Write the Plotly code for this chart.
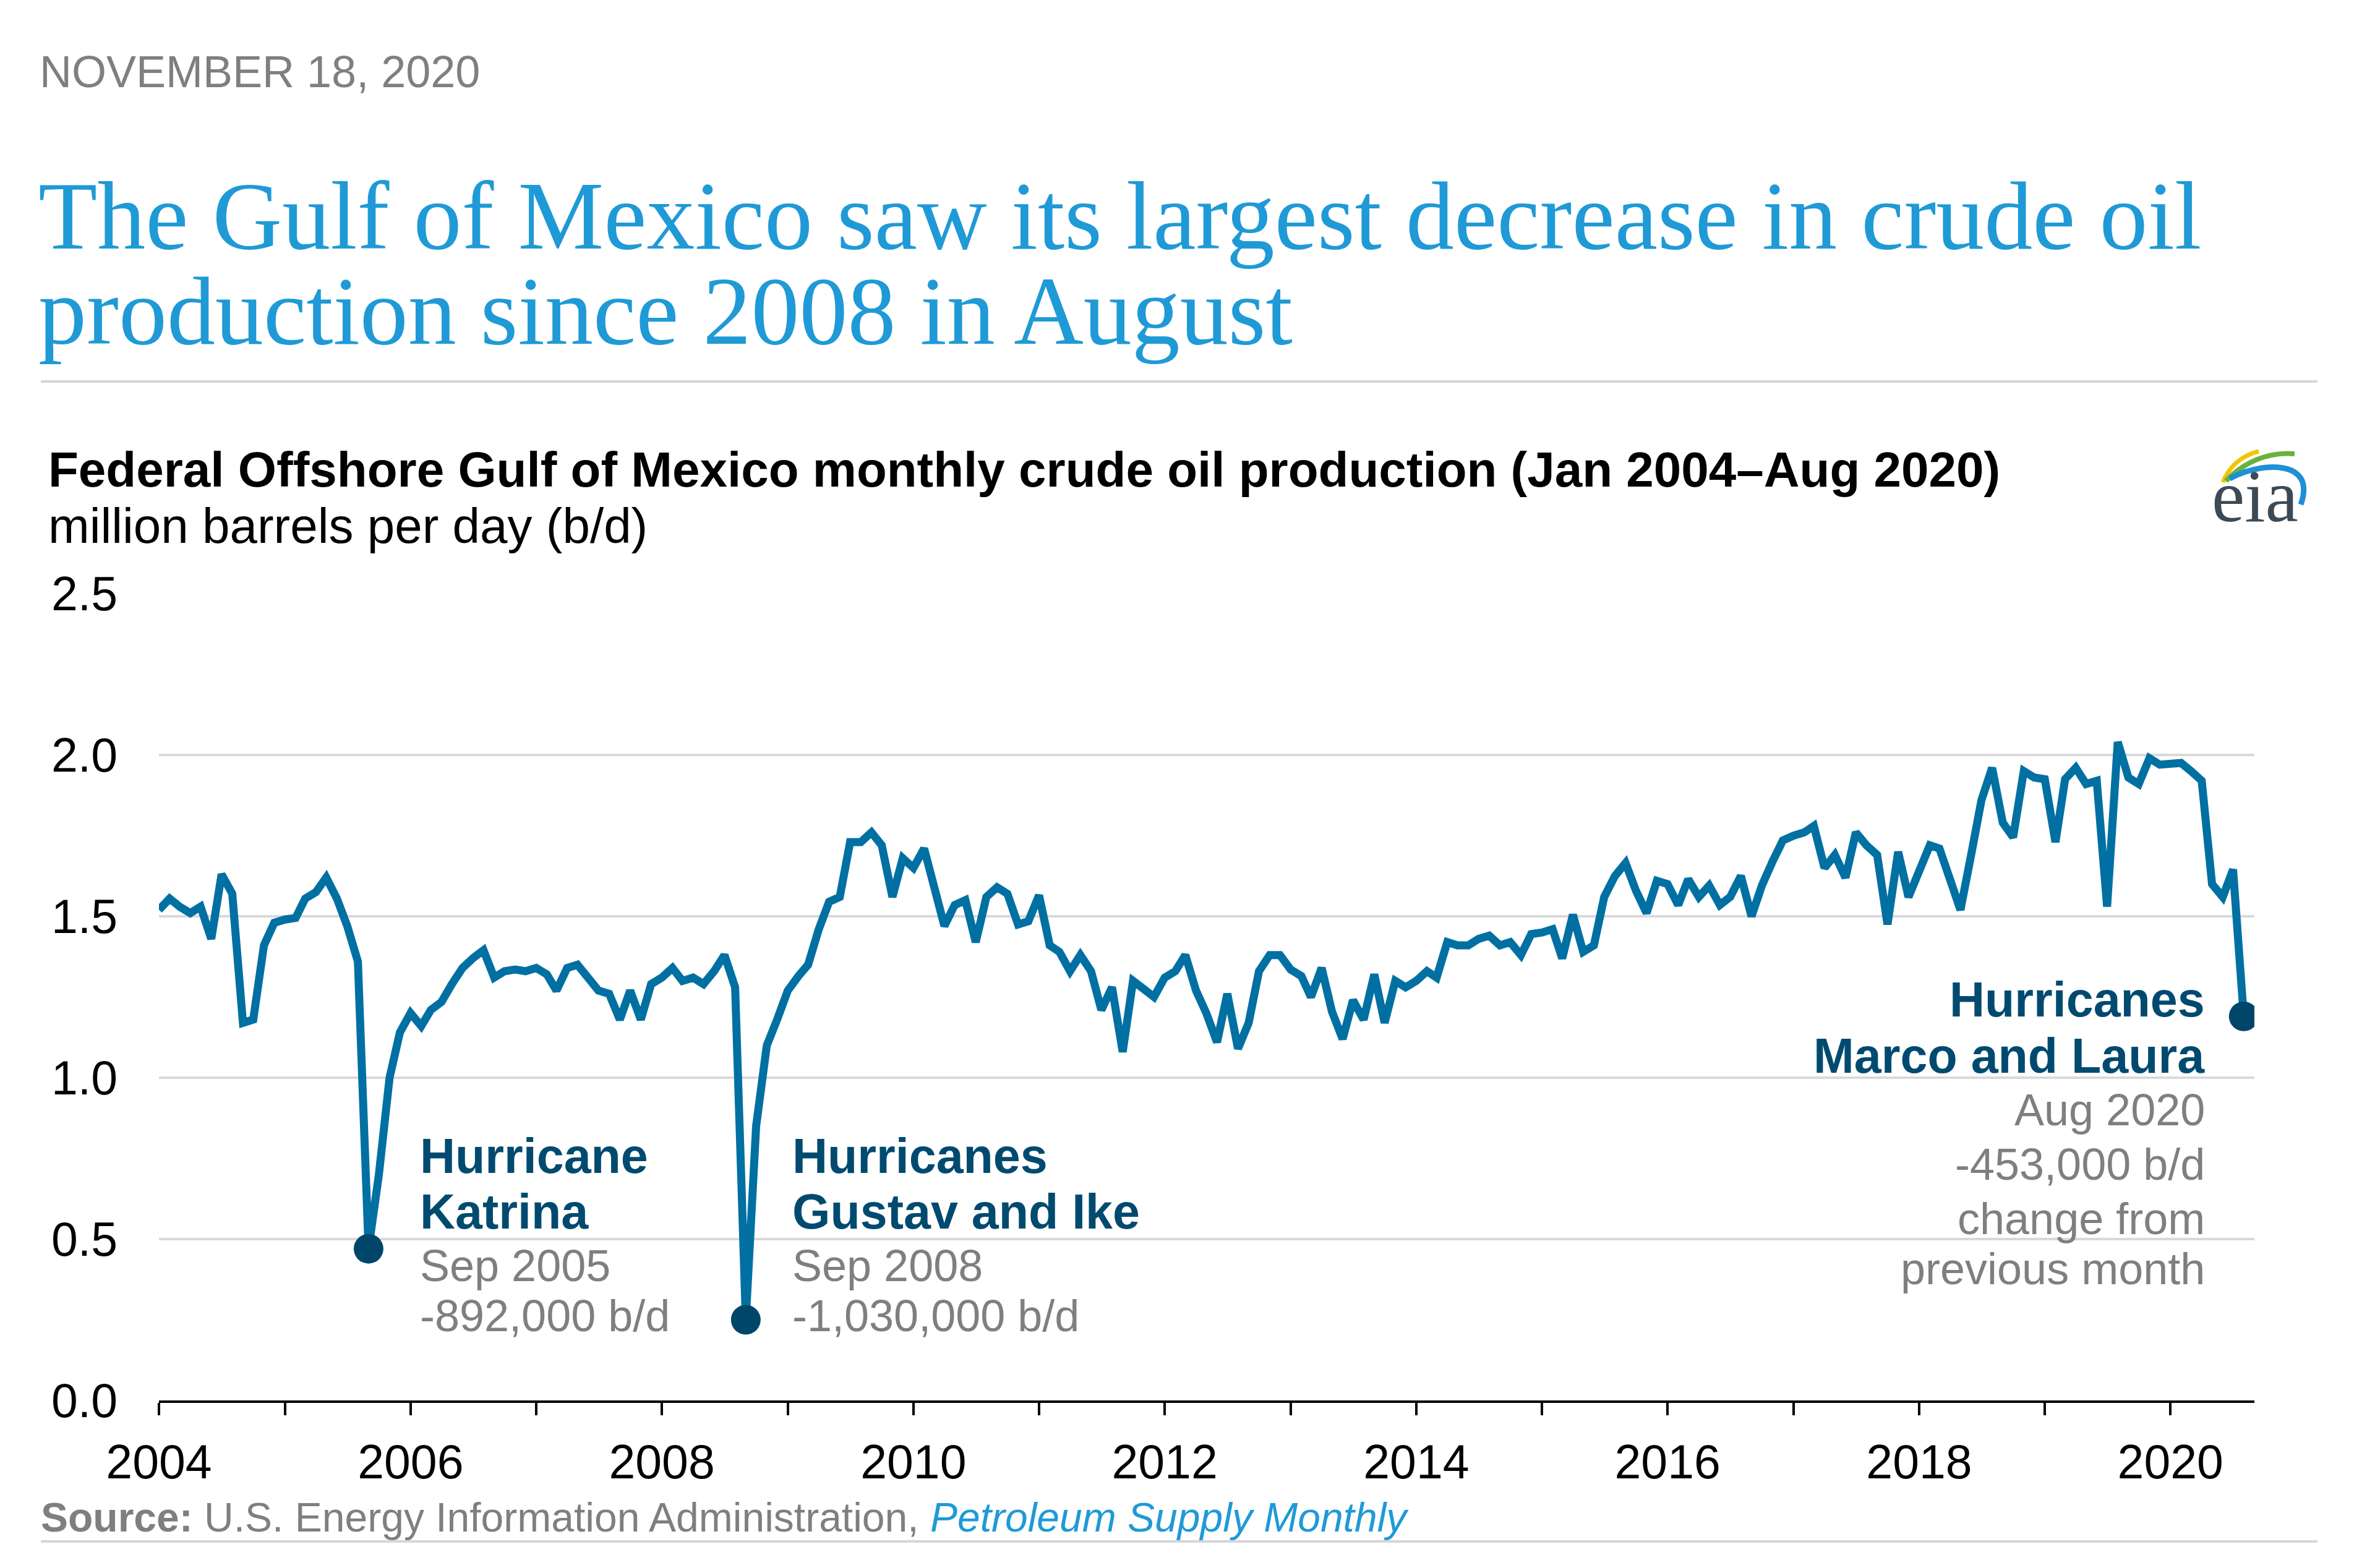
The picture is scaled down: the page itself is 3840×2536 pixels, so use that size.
import pandas as pd
import plotly.graph_objects as go

# ---------------- data ----------------
months = pd.date_range("2004-01-01", periods=200, freq="MS")

production = [
    # 2004
    1.52, 1.555, 1.53, 1.51, 1.53, 1.43, 1.63, 1.57, 1.17, 1.18, 1.41, 1.48,
    # 2005
    1.49, 1.495, 1.555, 1.575, 1.62, 1.555, 1.47, 1.36, 0.47, 0.70, 1.00, 1.14,
    # 2006
    1.20, 1.16, 1.21, 1.235, 1.29, 1.34, 1.37, 1.395, 1.31, 1.33, 1.335, 1.33,
    # 2007
    1.34, 1.32, 1.27, 1.34, 1.35, 1.31, 1.27, 1.26, 1.18, 1.27, 1.18, 1.29,
    # 2008
    1.31, 1.34, 1.30, 1.31, 1.29, 1.33, 1.38, 1.28, 0.25, 0.85, 1.10, 1.18,
    # 2009
    1.27, 1.315, 1.35, 1.46, 1.545, 1.56, 1.73, 1.73, 1.76, 1.72, 1.56, 1.68,
    # 2010
    1.65, 1.71, 1.60, 1.47, 1.535, 1.55, 1.42, 1.56, 1.59, 1.57, 1.475, 1.485,
    # 2011
    1.565, 1.41, 1.39, 1.33, 1.38, 1.33, 1.21, 1.28, 1.08, 1.30, 1.275, 1.25,
    # 2012
    1.31, 1.33, 1.38, 1.27, 1.20, 1.11, 1.26, 1.09, 1.17, 1.33, 1.38, 1.38,
    # 2013
    1.335, 1.315, 1.25, 1.34, 1.205, 1.12, 1.24, 1.18, 1.32, 1.17, 1.30, 1.28,
    # 2014
    1.30, 1.33, 1.31, 1.42, 1.41, 1.41, 1.43, 1.44, 1.41, 1.42, 1.38, 1.445,
    # 2015
    1.45, 1.46, 1.37, 1.505, 1.39, 1.41, 1.56, 1.625, 1.665, 1.58, 1.51, 1.61,
    # 2016
    1.60, 1.535, 1.615, 1.56, 1.595, 1.535, 1.56, 1.625, 1.50, 1.595, 1.67, 1.735,
    # 2017
    1.75, 1.76, 1.78, 1.65, 1.69, 1.62, 1.76, 1.72, 1.69, 1.475, 1.70, 1.56,
    # 2018
    1.64, 1.72, 1.71, 1.62, 1.52, 1.69, 1.86, 1.96, 1.79, 1.745, 1.95, 1.93,
    # 2019
    1.925, 1.73, 1.925, 1.96, 1.91, 1.92, 1.53, 2.04, 1.93, 1.91, 1.99, 1.97,
    # 2020
    1.975, 1.975, 1.95, 1.92, 1.60, 1.56, 1.645, 1.19,
]

y_tick_values = [0.0, 0.5, 1.0, 1.5, 2.0, 2.5]
y_tick_labels = ["0.0", "0.5", "1.0", "1.5", "2.0", "2.5"]
x_tick_years = list(range(2004, 2021))
x_tick_labels = [str(y) if (y - 2004) % 2 == 0 else "" for y in x_tick_years]

highlight_months = ["2005-09-01", "2008-09-01", "2020-08-01"]

# ---------------- layout constants ----------------
W, H = 3840, 2536
L, R, T, B = 257, 3645, 960, 2265   # plot area in pixels

SANS = "Liberation Sans, Arial, Helvetica, sans-serif"
SERIF = "Liberation Serif, Times New Roman, serif"
LINE_C = "#0070a3"
DOT_C = "#00466b"
LABEL_C = "#004a70"
GRAY = "#7f7f7f"
BLUE = "#1f9ad6"


def px_x(px):
    return (px - L) / (R - L)


def px_y(py):
    return (B - py) / (B - T)


hl_x = [pd.Timestamp(d) for d in highlight_months]
hl_y = [production[months.get_loc(d)] for d in hl_x]

fig = go.Figure()
fig.add_trace(go.Scatter(
    x=months, y=production, mode="lines",
    line=dict(color=LINE_C, width=13), hoverinfo="skip",
))
fig.add_trace(go.Scatter(
    x=hl_x, y=hl_y, mode="markers",
    marker=dict(color=DOT_C, size=48, line=dict(width=0)), hoverinfo="skip",
))

fig.update_layout(
    width=W, height=H,
    margin=dict(l=L, r=W - R, t=T, b=H - B, pad=0),
    paper_bgcolor="white", plot_bgcolor="white",
    showlegend=False,
    font=dict(family=SANS, color="black"),
)

fig.update_xaxes(
    type="date",
    range=["2004-01-01", "2020-09-01"],
    tickvals=[pd.Timestamp(f"{y}-01-01") for y in x_tick_years],
    ticktext=x_tick_labels,
    showgrid=False, zeroline=False,
    showline=True, linecolor="black", linewidth=4,
    ticks="outside", ticklen=20, tickwidth=4, tickcolor="black",
    tickfont=dict(size=77, color="black", family=SANS),
    ticklabelstandoff=10,
)
fig.update_yaxes(
    range=[0, 2.5],
    tickvals=y_tick_values, ticktext=y_tick_labels,
    showgrid=True, gridcolor="#d9d9d9", gridwidth=4,
    zeroline=False, showline=False, ticks="",
    tickfont=dict(size=77, color="black", family=SANS),
    ticklabelstandoff=66,
)


def add_text(text, x, y, size, color, xanchor="left", family=SANS):
    fig.add_annotation(
        text=text, x=px_x(x), y=px_y(y), xref="paper", yref="paper",
        xanchor=xanchor, yanchor="middle", showarrow=False,
        font=dict(size=size, color=color, family=family),
    )


# header
add_text("NOVEMBER 18, 2020", 62, 116, 72, GRAY)
add_text("The Gulf of Mexico saw its largest decrease in crude oil", 60, 349, 156, BLUE, family=SERIF)
add_text("production since 2008 in August", 60, 503, 156, BLUE, family=SERIF)
add_text("<b>Federal Offshore Gulf of Mexico monthly crude oil production (Jan 2004\u2013Aug 2020)</b>",
         76, 759, 80, "black")
add_text("million barrels per day (b/d)", 76, 850, 80, "black")

# annotations
add_text("<b>Hurricane</b>", 677, 1869, 79, LABEL_C)
add_text("<b>Katrina</b>", 677, 1959, 79, LABEL_C)
add_text("Sep 2005", 677, 2047, 72, GRAY)
add_text("-892,000 b/d", 677, 2128, 72, GRAY)

add_text("<b>Hurricanes</b>", 1279, 1869, 79, LABEL_C)
add_text("<b>Gustav and Ike</b>", 1279, 1959, 79, LABEL_C)
add_text("Sep 2008", 1279, 2047, 72, GRAY)
add_text("-1,030,000 b/d", 1279, 2128, 72, GRAY)

add_text("<b>Hurricanes</b>", 3567, 1616, 79, LABEL_C, xanchor="right")
add_text("<b>Marco and Laura</b>", 3567, 1707, 79, LABEL_C, xanchor="right")
add_text("Aug 2020", 3567, 1795, 72, GRAY, xanchor="right")
add_text("-453,000 b/d", 3567, 1883, 72, GRAY, xanchor="right")
add_text("change from", 3567, 1971, 72, GRAY, xanchor="right")
add_text("previous month", 3567, 2052, 72, GRAY, xanchor="right")

# source
add_text("<b>Source:</b> U.S. Energy Information Administration, "
         f"<i><span style='color:{BLUE}'>Petroleum Supply Monthly</span></i>",
         64, 2454, 66, GRAY)

# eia logo text
add_text("eia", 3646, 802, 120, "#3c4a56", xanchor="center", family=SERIF)

# separator rules
for yy in (617, 2493):
    fig.add_shape(type="line", xref="paper", yref="paper",
                  x0=px_x(66), x1=px_x(3747), y0=px_y(yy), y1=px_y(yy),
                  line=dict(color="#d6d6d6", width=4))


def arc(p0, c1, c2, p1):
    return (f"M {px_x(p0[0])},{px_y(p0[1])} C {px_x(c1[0])},{px_y(c1[1])} "
            f"{px_x(c2[0])},{px_y(c2[1])} {px_x(p1[0])},{px_y(p1[1])}")


logo_arcs = [
    ((3594, 780), (3604, 755), (3624, 737), (3652, 730), "#f2c500", 7),
    ((3599, 778), (3627, 748), (3667, 730), (3710, 734), "#6ab23e", 8),
    ((3605, 774), (3652, 748), (3747, 740), (3720, 816), "#1f8fd6", 9),
]
for p0, c1, c2, p1, col, wd in logo_arcs:
    fig.add_shape(type="path", xref="paper", yref="paper", path=arc(p0, c1, c2, p1),
                  line=dict(color=col, width=wd))

fig.write_html(
    "out.html",
    config={"displayModeBar": False},
    post_script="document.body.style.margin='0';document.body.style.padding='0';",
)
